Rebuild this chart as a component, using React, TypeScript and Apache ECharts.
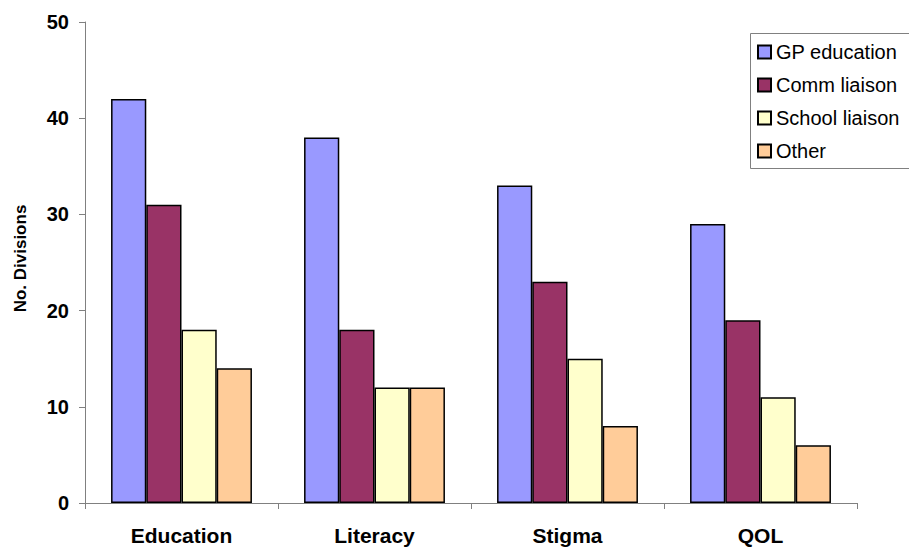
import React, { useEffect, useRef } from "react";
import * as echarts from "echarts";

const categories = ["Education", "Literacy", "Stigma", "QOL"];
const seriesNames = ["GP education", "Comm liaison", "School liaison", "Other"];
const gpEducation = [42, 38, 33, 29];
const commLiaison = [31, 18, 23, 19];
const schoolLiaison = [18, 12, 15, 11];
const other = [14, 12, 8, 6];
const colors = ["#9999FF", "#993366", "#FFFFCC", "#FFCC99"];

const FONT = "Arial, 'Liberation Sans', sans-serif";

export default function App() {
  const ref = useRef<HTMLDivElement>(null);

  useEffect(() => {
    if (!ref.current) return;
    const chart = echarts.init(ref.current, undefined, { renderer: "svg" });
    const values = [gpEducation, commLiaison, schoolLiaison, other];
    chart.setOption({
      animation: false,
      backgroundColor: "#ffffff",
      grid: { left: 85, right: 52, top: 22, bottom: 44 },
      // legend frame: open on the right, where it runs past the canvas edge
      graphic: [
        {
          type: "polyline",
          z: 0,
          shape: {
            points: [
              [960, 33.5],
              [750.5, 33.5],
              [750.5, 168.5],
              [960, 168.5],
            ],
          },
          style: { fill: null, stroke: "#808080", lineWidth: 1 },
        },
      ],
      legend: {
        orient: "vertical",
        left: 750,
        top: 33,
        padding: [9, 10, 8, 7],
        itemGap: 13,
        itemWidth: 13,
        itemHeight: 13,
        z: 10,
        icon: "rect",
        textStyle: { fontFamily: FONT, fontSize: 20, color: "#000" },
        data: seriesNames,
      },
      xAxis: {
        type: "category",
        data: categories,
        axisLine: { lineStyle: { color: "#808080", width: 1 } },
        axisTick: { show: true, length: 6, inside: false, lineStyle: { color: "#808080" } },
        axisLabel: {
          fontFamily: FONT,
          fontSize: 21,
          fontWeight: "bold",
          color: "#000",
          margin: 22,
        },
      },
      yAxis: {
        type: "value",
        min: 0,
        max: 50,
        interval: 10,
        name: "No. Divisions",
        nameLocation: "middle",
        nameGap: 56,
        nameTextStyle: {
          fontFamily: FONT,
          fontSize: 17,
          fontWeight: "bold",
          color: "#000",
          padding: [0, 0, 0, 8],
        },
        splitLine: { show: false },
        axisLine: { show: true, lineStyle: { color: "#808080", width: 1 } },
        axisTick: { show: true, length: 6, lineStyle: { color: "#808080" } },
        axisLabel: {
          fontFamily: FONT,
          fontSize: 20,
          fontWeight: "bold",
          color: "#000",
          margin: 16,
        },
      },
      series: seriesNames.map((name, i) => ({
        name,
        type: "bar",
        data: values[i],
        barGap: "0%",
        barCategoryGap: "27%",
        itemStyle: { color: colors[i], borderColor: "#000", borderWidth: 1.5 },
      })),
    });
    return () => chart.dispose();
  }, []);

  return <div ref={ref} style={{ width: 909, height: 547, position: "absolute", left: 0, top: 0 }} />;
}
